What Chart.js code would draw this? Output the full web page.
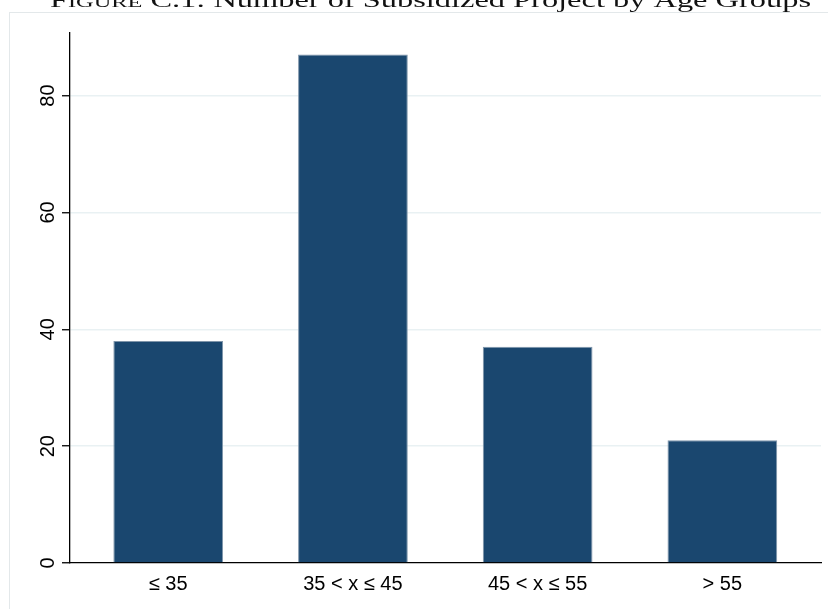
<!DOCTYPE html>
<html>
<head>
<meta charset="utf-8">
<title>Subsidized projects by age group</title>
<script src="https://cdn.jsdelivr.net/npm/chart.js@4/dist/chart.umd.min.js"></script>
<style>
    html, body { margin: 0; padding: 0; background: #fff; }
    #wrap { position: relative; width: 828px; height: 609px; }
</style>
</head>
<body>
<div id="wrap"><canvas id="ageChart" width="828" height="609"></canvas></div>
<script>
// Projects per age group of the applicant
const ageGroups = ['≤ 35', '35 < x ≤ 45', '45 < x ≤ 55', '> 55'];
const projectCounts = [38, 87, 37, 21];
const yTickValues = [0, 20, 40, 60, 80];

const titleParts = [
    { text: 'F', small: false },
    { text: 'IGURE', small: true },
    { text: ' C.1: Number of Subsidized Project by Age Groups', small: false }
];

const NAVY = '#1a476f';
const GRID = '#e9f1f3';
const LABEL_FONT = '"Liberation Sans", Arial, Helvetica, sans-serif';

// Outer graph region border plus the (partly cut) caption above it
const decorPlugin = {
    id: 'decor',
    beforeDraw(chart) {
        const ctx = chart.ctx;
        ctx.save();
        ctx.fillStyle = '#fff';
        ctx.fillRect(0, 0, chart.width, chart.height);
        ctx.strokeStyle = '#e3e8ea';
        ctx.lineWidth = 1;
        ctx.strokeRect(9.5, 12.5, 900, 700);
        ctx.restore();
    },
    afterDraw(chart) {
        const ctx = chart.ctx;
        ctx.save();
        const big = 20, small = 15;
        const fontFor = p => `${p.small ? small : big}px "Liberation Serif", "Times New Roman", serif`;
        let total = 0;
        titleParts.forEach(p => { ctx.font = fontFor(p); total += ctx.measureText(p.text).width; });
        ctx.translate(50, 6.5);
        ctx.scale(761 / total, 1);
        ctx.fillStyle = '#111';
        ctx.textBaseline = 'alphabetic';
        let x = 0;
        titleParts.forEach(p => {
            ctx.font = fontFor(p);
            ctx.fillText(p.text, x, 0);
            x += ctx.measureText(p.text).width;
        });
        ctx.restore();
    }
};

// Rotated y tick labels, reading bottom to top
const yLabelPlugin = {
    id: 'yLabels',
    afterDraw(chart) {
        const scale = chart.scales.y;
        const ctx = chart.ctx;
        ctx.save();
        ctx.font = `20px ${LABEL_FONT}`;
        ctx.fillStyle = '#000';
        ctx.textAlign = 'center';
        ctx.textBaseline = 'alphabetic';
        scale.ticks.forEach(t => {
            const y = scale.getPixelForValue(t.value);
            ctx.save();
            ctx.translate(53.5, y);
            ctx.rotate(-Math.PI / 2);
            ctx.fillText(String(t.value), 0, 0);
            ctx.restore();
        });
        ctx.restore();
    }
};

new Chart(document.getElementById('ageChart'), {
    type: 'bar',
    data: {
        datasets: [{
            data: projectCounts.map((v, i) => ({ x: i, y: v })),
            backgroundColor: NAVY,
            borderColor: '#7f95aa',
            borderWidth: 1,
            barPercentage: 0.594,
            categoryPercentage: 1
        }]
    },
    options: {
        responsive: false,
        animation: false,
        layout: { padding: { top: 33, right: 7, bottom: 0, left: 0 } },
        plugins: {
            legend: { display: false },
            tooltip: { enabled: false }
        },
        scales: {
            x: {
                type: 'linear',
                offset: false,
                min: -0.5317,
                max: 3.534,
                afterFit: s => { s.height = 46; },
                afterBuildTicks: s => { s.ticks = ageGroups.map((_, i) => ({ value: i })); },
                grid: { display: false, drawTicks: false, offset: false },
                border: { display: true, color: '#000', width: 1.3 },
                ticks: {
                    autoSkip: false,
                    maxRotation: 0,
                    padding: 9,
                    color: '#000',
                    font: { family: LABEL_FONT, size: 20 },
                    callback: v => ageGroups[v]
                }
            },
            y: {
                min: 0,
                max: 90.7,
                afterFit: s => { s.width = 70; },
                afterBuildTicks: s => { s.ticks = yTickValues.map(v => ({ value: v })); },
                grid: {
                    color: ctx => ctx.tick && ctx.tick.value === 0 ? 'rgba(0,0,0,0)' : GRID,
                    lineWidth: 1.5,
                    drawTicks: true,
                    tickLength: 8,
                    tickColor: '#000',
                    tickWidth: 1.3
                },
                border: { display: true, color: '#000', width: 1.3 },
                ticks: { display: false }
            }
        }
    },
    plugins: [decorPlugin, yLabelPlugin]
});
</script>
</body>
</html>
